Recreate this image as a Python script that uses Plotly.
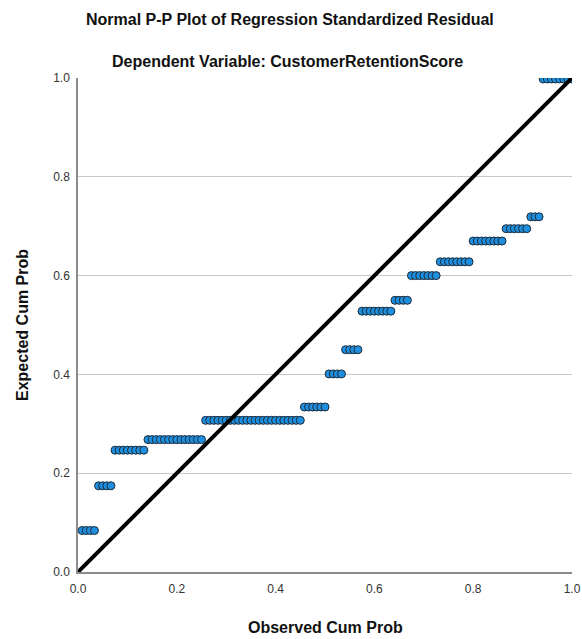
import plotly.graph_objects as go

# Observed cumulative probability groups (number of cases per step) and expected cum prob per step
group_counts = [4, 4, 8, 14, 24, 6, 4, 4, 8, 4, 7, 8, 8, 6, 3, 8]
expected_levels = [0.084, 0.1745, 0.2466, 0.268, 0.307, 0.334, 0.401, 0.450,
                   0.528, 0.550, 0.600, 0.628, 0.670, 0.695, 0.719, 0.998]
tick_vals = [0.0, 0.2, 0.4, 0.6, 0.8, 1.0]
tick_text = ["0.0", "0.2", "0.4", "0.6", "0.8", "1.0"]

n = sum(group_counts)
observed = []
expected = []
i = 1
for cnt, lvl in zip(group_counts, expected_levels):
    for _ in range(cnt):
        observed.append(i / n)
        expected.append(lvl)
        i += 1

font_family = "Liberation Sans, Arial, sans-serif"

W, H = 582, 639
L, T = 78, 78
plot_w = plot_h = 494
R = W - L - plot_w
B = H - T - plot_h


def px_to_paper(px, py):
    return (px - L) / plot_w, (H - py - B) / plot_h


fig = go.Figure()
fig.add_trace(go.Scatter(
    x=observed, y=expected, mode="markers",
    marker=dict(size=8, color="#1E8FE0", line=dict(color="#1C2A36", width=1)),
    showlegend=False, hoverinfo="x+y"))
fig.add_trace(go.Scatter(
    x=[0, 1], y=[0, 1], mode="lines",
    line=dict(color="black", width=4),
    showlegend=False, hoverinfo="skip"))

t1x, t1y = px_to_paper(290, 20)
t2x, t2y = px_to_paper(287, 61)
xtx, xty = px_to_paper(325, 627)
ytx, yty = px_to_paper(22, 325)

fig.update_layout(
    width=W, height=H,
    margin=dict(l=L, r=R, t=T, b=B),
    paper_bgcolor="white", plot_bgcolor="white",
    font=dict(family=font_family, color="#222222"),
    xaxis=dict(range=[0, 1], tickvals=tick_vals, ticktext=tick_text,
               showgrid=False, zeroline=False, showline=True, automargin=False,
               linecolor="#8c8c8c", linewidth=1.5, ticks="", ticklabelstandoff=5,
               ticklabeloverflow="allow",
               tickfont=dict(size=12, color="#333333")),
    yaxis=dict(range=[0, 1], tickvals=tick_vals, ticktext=tick_text,
               showgrid=True, gridcolor="#c8c8c8", gridwidth=1, automargin=False,
               zeroline=False, showline=True, ticklabelstandoff=4,
               ticklabeloverflow="allow",
               linecolor="#8c8c8c", linewidth=1.5, ticks="",
               tickfont=dict(size=12, color="#333333")),
    annotations=[
        dict(text="<b>Normal P-P Plot of Regression Standardized Residual</b>",
             x=t1x, y=t1y, xref="paper", yref="paper", showarrow=False,
             xanchor="center", yanchor="middle",
             font=dict(size=16, color="#111111")),
        dict(text="<b>Dependent Variable: CustomerRetentionScore</b>",
             x=t2x, y=t2y, xref="paper", yref="paper", showarrow=False,
             xanchor="center", yanchor="middle",
             font=dict(size=16, color="#111111")),
        dict(text="<b>Observed Cum Prob</b>",
             x=xtx, y=xty, xref="paper", yref="paper", showarrow=False,
             xanchor="center", yanchor="middle",
             font=dict(size=16, color="#111111")),
        dict(text="<b>Expected Cum Prob</b>", textangle=-90,
             x=ytx, y=yty, xref="paper", yref="paper", showarrow=False,
             xanchor="center", yanchor="middle",
             font=dict(size=16, color="#111111")),
    ],
)

fig.write_html(
    "out.html",
    config={"displayModeBar": False},
    post_script="document.body.style.margin='0';document.body.style.overflow='hidden';",
)
